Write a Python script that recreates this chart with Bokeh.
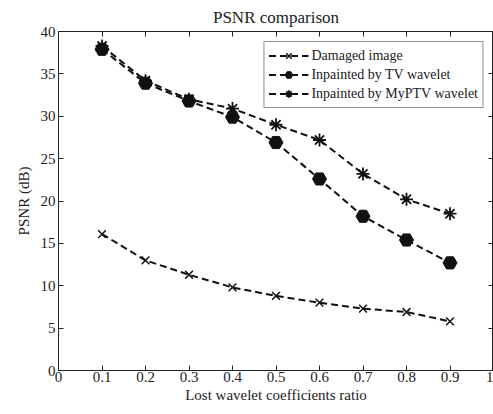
from bokeh.plotting import figure
from bokeh.models import FixedTicker, LinearAxis, Legend, LegendItem, Range1d
from bokeh.embed import file_html
from bokeh.resources import INLINE

ratio = [0.1, 0.2, 0.3, 0.4, 0.5, 0.6, 0.7, 0.8, 0.9]
damaged = [16.1, 13.0, 11.3, 9.8, 8.8, 8.0, 7.3, 6.9, 5.8]
tv = [37.9, 33.9, 31.8, 29.9, 26.9, 22.6, 18.2, 15.4, 12.7]
myptv = [38.3, 34.2, 32.0, 30.9, 29.0, 27.2, 23.2, 20.2, 18.5]

x_ticks = [0, 0.1, 0.2, 0.3, 0.4, 0.5, 0.6, 0.7, 0.8, 0.9, 1]
x_tick_labels = ["0", "0.1", "0.2", "0.3", "0.4", "0.5", "0.6", "0.7", "0.8", "0.9", "1"]
y_ticks = [0, 5, 10, 15, 20, 25, 30, 35, 40]

FONT = "Liberation Serif"

p = figure(width=493, height=406, output_backend="svg", toolbar_location=None,
           x_range=Range1d(0, 1), y_range=Range1d(0, 40),
           min_border_left=58, min_border_right=0, min_border_top=25, min_border_bottom=36)
p.title.text = "PSNR comparison"
p.title.align = "center"
p.title.text_font = FONT
p.title.text_font_size = "17px"
p.title.text_font_style = "normal"
p.title.text_color = "#222222"
p.xgrid.visible = False
p.ygrid.visible = False
p.outline_line_color = "#222222"
p.outline_line_width = 1

for ax in [p.xaxis[0], p.yaxis[0]]:
    ax.major_label_text_font = FONT
    ax.major_label_text_font_size = "15px"
    ax.major_label_text_color = "#222222"
    ax.axis_label_text_font = FONT
    ax.axis_label_text_font_size = "15px"
    ax.axis_label_text_font_style = "normal"
    ax.axis_label_text_color = "#222222"
    ax.major_tick_in = 5
    ax.major_tick_out = 0
    ax.minor_tick_line_color = None
    ax.axis_line_color = "#222222"
    ax.major_tick_line_color = "#222222"

p.xaxis[0].ticker = FixedTicker(ticks=x_ticks)
p.xaxis[0].major_label_overrides = {t: l for t, l in zip(x_ticks, x_tick_labels)}
p.xaxis[0].axis_label = "Lost wavelet coefficients ratio"
p.xaxis[0].axis_label_standoff = 2
p.xaxis[0].major_label_standoff = 1
p.yaxis[0].ticker = FixedTicker(ticks=y_ticks)
p.yaxis[0].axis_label = "PSNR (dB)"
p.yaxis[0].axis_label_standoff = 6
p.yaxis[0].major_label_standoff = 3

top = LinearAxis(ticker=FixedTicker(ticks=x_ticks),
                 major_label_overrides={t: "" for t in x_ticks},
                 major_tick_in=5, major_tick_out=0, minor_tick_line_color=None,
                 axis_line_color="#222222", major_tick_line_color="#222222",
                 major_label_standoff=0)
right = LinearAxis(ticker=FixedTicker(ticks=y_ticks),
                   major_label_overrides={t: "" for t in y_ticks},
                   major_tick_in=5, major_tick_out=0, minor_tick_line_color=None,
                   axis_line_color="#222222", major_tick_line_color="#222222",
                   major_label_standoff=0)
p.add_layout(top, "above")
p.add_layout(right, "right")

c = "#111111"
l1 = p.line(ratio, damaged, line_color=c, line_width=2, line_dash="7 4")
m1 = p.scatter(ratio, damaged, marker="x", size=11, line_color=c, line_width=1.5)
l2 = p.line(ratio, tv, line_color=c, line_width=2, line_dash="7 4")
m2 = p.scatter(ratio, tv, marker="hex", size=14, fill_color=c, line_color=c)
l3 = p.line(ratio, myptv, line_color=c, line_width=2, line_dash="7 4")
m3 = p.scatter(ratio, myptv, marker="asterisk", size=13, line_color=c, line_width=1.8)

legend = Legend(items=[
    LegendItem(label="Damaged image", renderers=[l1, m1]),
    LegendItem(label="Inpainted by TV wavelet", renderers=[l2, m2]),
    LegendItem(label="Inpainted by MyPTV wavelet", renderers=[l3, m3]),
], location="top_right")
legend.label_text_font = FONT
legend.label_text_font_size = "14px"
legend.label_text_color = "#222222"
legend.glyph_width = 40
legend.glyph_height = 19
legend.spacing = 0
legend.padding = 4
legend.margin = 10
legend.label_standoff = 3
legend.border_line_color = "#222222"
legend.border_line_width = 1
legend.background_fill_alpha = 1
p.add_layout(legend)

open("out.html", "w").write(file_html(p, INLINE))
